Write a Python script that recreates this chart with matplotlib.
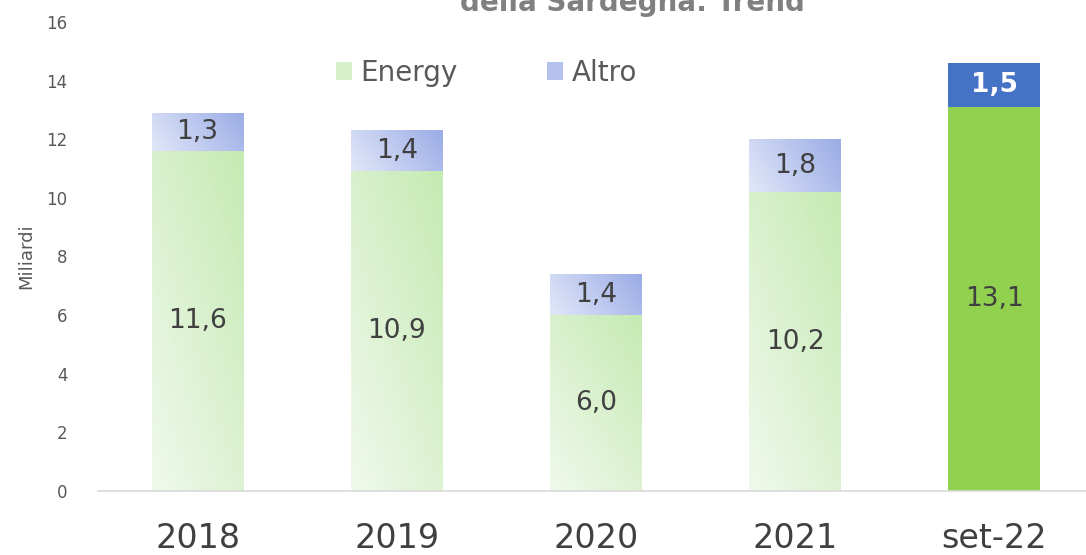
import numpy as np
import matplotlib
matplotlib.use("Agg")
import matplotlib.pyplot as plt
from matplotlib.colors import LinearSegmentedColormap
from matplotlib.patches import Patch

# data
categories = ["2018", "2019", "2020", "2021", "set-22"]
energy = [11.6, 10.9, 6.0, 10.2, 13.1]
altro = [1.3, 1.4, 1.4, 1.8, 1.5]
energy_labels = ["11,6", "10,9", "6,0", "10,2", "13,1"]
altro_labels = ["1,3", "1,4", "1,4", "1,8", "1,5"]

plt.rcParams['font.family'] = ['DejaVu Sans']

fig = plt.figure(figsize=(10.86, 5.55), dpi=100)
ax = fig.add_axes([0.0902, 0.1153, 0.917, 0.8451])

x = np.arange(len(categories))
width = 0.46

green_cmap = LinearSegmentedColormap.from_list("g", ["#f0f9eb", "#c5eab4"])
blue_cmap = LinearSegmentedColormap.from_list("b", ["#e2e7f8", "#9aace6"])

# diagonal gradient: light bottom-left -> darker top-right
gx, gy = np.meshgrid(np.linspace(0, 1, 64), np.linspace(0, 1, 64))
grad_green = 0.45 * gx + 0.55 * gy
grad_blue = 0.75 * gx + 0.25 * gy

bars_e = ax.bar(x, energy, width, color="none", edgecolor="none")
bars_a = ax.bar(x, altro, width, bottom=energy, color="none", edgecolor="none")

last = len(categories) - 1
for i, (pe, pa) in enumerate(zip(bars_e, bars_a)):
    if i == last:
        pe.set_facecolor("#92d050")
        pa.set_facecolor("#4472c4")
        continue
    for p, cmap, g in ((pe, green_cmap, grad_green), (pa, blue_cmap, grad_blue)):
        x0, y0 = p.get_x(), p.get_y()
        w, h = p.get_width(), p.get_height()
        im = ax.imshow(g, cmap=cmap, origin="lower", aspect="auto",
                       extent=[x0, x0 + w, y0, y0 + h], zorder=1,
                       interpolation="bilinear")
        im.set_clip_path(p)

# data labels
for i in range(len(categories)):
    ax.text(x[i], energy[i] / 2, energy_labels[i], ha="center", va="center",
            fontsize=19, color="#404040", zorder=3)
    if i == last:
        ax.text(x[i], energy[i] + altro[i] / 2, altro_labels[i], ha="center",
                va="center", fontsize=19, color="white", fontweight="bold", zorder=3)
    else:
        ax.text(x[i], energy[i] + altro[i] / 2, altro_labels[i], ha="center",
                va="center", fontsize=19, color="#404040", zorder=3)

ax.set_xlim(-0.5, len(categories) - 0.5)
ax.set_ylim(0, 16)
ax.set_yticks(range(0, 17, 2))
ax.set_xticks(x)
ax.set_xticklabels(categories, fontsize=24, color="#404040")
ax.tick_params(axis="x", length=0, pad=22)
ax.tick_params(axis="y", length=0, labelsize=12, labelcolor="#595959", pad=22)
for s in ["top", "right", "left"]:
    ax.spines[s].set_visible(False)
ax.spines["bottom"].set_color("#d9d9d9")
ax.spines["bottom"].set_linewidth(1.2)

ax.set_ylabel("Miliardi", fontsize=13, color="#595959", labelpad=8)

# legend
handles = [Patch(facecolor="#d6f0c9", edgecolor="none", label="Energy"),
           Patch(facecolor="#b4c1ee", edgecolor="none", label="Altro")]
ax.legend(handles=handles, loc="upper center", bbox_to_anchor=(0.39, 0.975),
          ncol=2, frameon=False, fontsize=20, labelcolor="#595959",
          handlelength=0.6, handleheight=0.6, handletextpad=0.3, columnspacing=3.2)

# title (only the last line visible, as in the source)
fig.text(0.582, 0.98, "della Sardegna: Trend", ha="center", va="baseline",
         fontsize=20, fontweight="bold", color="#808080")

fig.savefig("out.png", dpi=100)
